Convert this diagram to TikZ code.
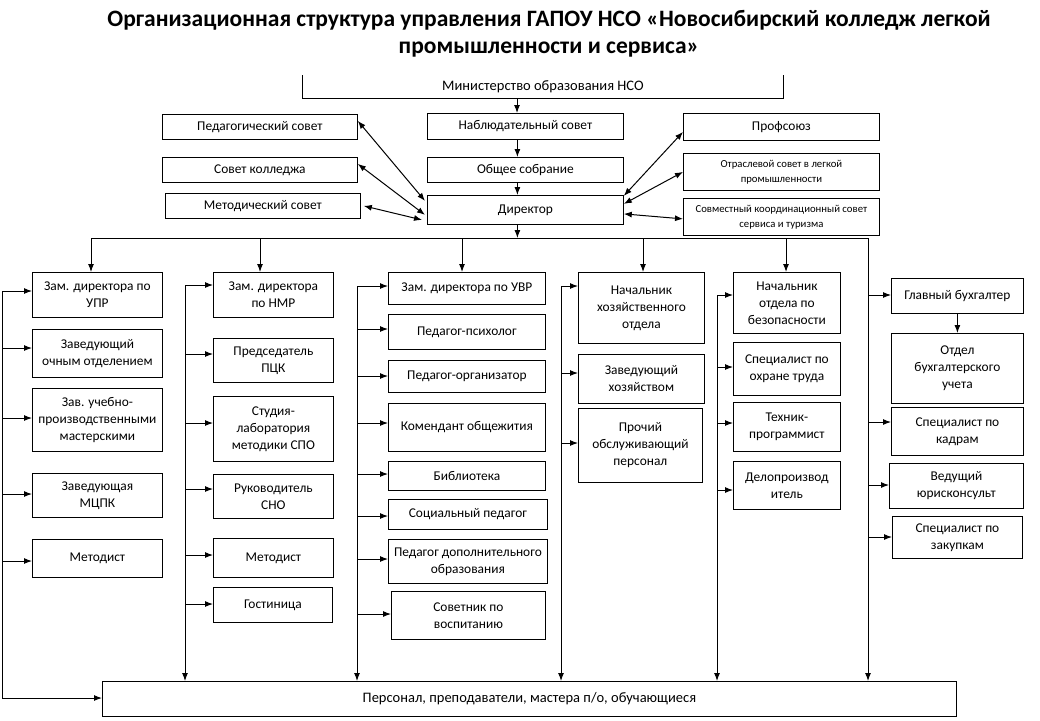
\documentclass[tikz,border=0pt]{standalone}
\usepackage{fontspec}
\setmainfont{Carlito}
\usetikzlibrary{arrows.meta}
\tikzset{
  box/.style={draw=black, line width=0.8pt, fill=white, inner sep=1pt, align=center, font=\fontsize{13.4}{17}\selectfont},
  smallbox/.style={box, font=\fontsize{10.7}{15}\selectfont},
  bigbox/.style={box, font=\fontsize{14.5}{17}\selectfont},
  arr/.style={line width=1pt, -{Latex[length=8pt,width=6pt]}},
  darr/.style={line width=1pt, {Latex[length=8pt,width=6pt]}-{Latex[length=8pt,width=6pt]}},
  line/.style={line width=1pt},
  titlestyle/.style={align=center, font=\fontsize{23.5}{27}\selectfont\bfseries},
}
\newcommand\mkbox[7][box]{\node[#1, anchor=north west, minimum width={(#5-#3)*1pt}, minimum height={(#6-#4)*1pt}] (#2) at (#3,#4) {#7};}
\begin{document}
\begin{tikzpicture}[x=1pt,y=-1pt]
\useasboundingbox (0,0) rectangle (1040,720);
\fill[white] (0,0) rectangle (1040,720);
\node[titlestyle] (title) at (549,34) {Организационная структура управления ГАПОУ НСО «Новосибирский колледж легкой\\промышленности и сервиса»};

% ministry (open box)
\node[font=\fontsize{14.5}{17}\selectfont] (min) at (543,87) {Министерство образования НСО};
\draw[line width=0.8pt] (302,75) -- (302,98) -- (783,98) -- (783,75);
\coordinate (minb) at (517,98);

% top boxes
\mkbox{ped}{162}{114}{357}{139}{Педагогический совет}
\mkbox{sk}{162}{157}{357}{182}{Совет колледжа}
\mkbox{ms}{165}{193}{360}{218}{Методический совет}
\mkbox{nab}{427}{113}{623}{139}{Наблюдательный совет}
\mkbox{obs}{427}{157}{623}{182}{Общее собрание}
\mkbox{dir}{427}{195}{623}{224}{Директор}
\mkbox{prof}{683}{113}{879}{140}{Профсоюз}
\mkbox[smallbox]{otr}{683}{153}{879}{190}{Отраслевой совет в легкой\\промышленности}
\mkbox[smallbox]{sovm}{683}{198}{879}{235}{Совместный координационный совет\\сервиса и туризма}

\draw[arr] (minb) -- (minb |- nab.north);
\coordinate (nabb) at ([xshift=-8pt]nab.south);
\coordinate (obsb) at ([xshift=-8pt]obs.south);
\coordinate (dirb) at ([xshift=-8pt]dir.south);
\draw[arr] (nabb) -- (nabb |- obs.north);
\draw[arr] (obsb) -- (obsb |- dir.north);

\draw[darr] ([yshift=6pt]ped.east) -- ([yshift=9pt,xshift=-2pt]dir.west);
\draw[darr] ([yshift=6pt]sk.east) -- ([yshift=-5pt,xshift=-2pt]dir.west);
\draw[darr] ([xshift=3pt]ms.east) -- ([yshift=-10pt,xshift=-5pt]dir.west);
\draw[darr] ([yshift=-5pt]prof.west) -- ([yshift=14pt]dir.east);
\draw[darr] (otr.west) -- ([yshift=6pt]dir.east);
\draw[darr] ([yshift=-2pt]sovm.west) -- ([yshift=-4pt]dir.east);

% bus
\coordinate (b1) at (91,238);
\coordinate (b2) at (260,238);
\coordinate (b3) at (462,238);
\coordinate (b4) at (643,238);
\coordinate (b5) at (786,238);
\coordinate (b6) at (868,238);
\draw[arr] (dirb) -- (dirb |- b1);
\draw[line] (b1) -- (b6);

% bottom box
\mkbox[bigbox]{pers}{102}{681}{956}{716}{Персонал, преподаватели, мастера п/о, обучающиеся}

% column 1
\mkbox{upr}{32}{272}{162}{317}{Зам. директора по\\УПР}
\mkbox{och}{32}{329}{162}{377}{Заведующий\\очным отделением}
\mkbox{zum}{32}{388}{162}{451}{Зав. учебно-\\производственными\\мастерскими}
\mkbox{mcpk}{32}{473}{162}{517}{Заведующая\\МЦПК}
\mkbox{met1}{32}{539}{162}{577}{Методист}
\draw[arr] (b1) -- (b1 |- upr.north);
\coordinate (r1a) at (2,291);
\coordinate (r1b) at (2,348);
\coordinate (r1c) at (2,418);
\coordinate (r1d) at (2,494);
\coordinate (r1e) at (2,561);
\coordinate (r1z) at (2,698);
\draw[line] (r1a) -- (r1z);
\draw[arr] (r1a) -- (r1a -| upr.west);
\draw[arr] (r1b) -- (r1b -| och.west);
\draw[arr] (r1c) -- (r1c -| zum.west);
\draw[arr] (r1d) -- (r1d -| mcpk.west);
\draw[arr] (r1e) -- (r1e -| met1.west);
\draw[arr] (r1z) -- (r1z -| pers.west);

% column 2
\mkbox{nmr}{213}{272}{333}{317}{Зам. директора\\по НМР}
\mkbox{pck}{213}{338}{333}{382}{Председатель\\ПЦК}
\mkbox{stu}{213}{396}{333}{461}{Студия-\\лаборатория\\методики СПО}
\mkbox{sno}{213}{474}{333}{518}{Руководитель\\СНО}
\mkbox{met2}{213}{538}{333}{577}{Методист}
\mkbox{gos}{213}{587}{332}{622}{Гостиница}
\draw[arr] (b2) -- (b2 |- nmr.north);
\coordinate (r2a) at (185,285);
\coordinate (r2b) at (185,354);
\coordinate (r2c) at (185,423);
\coordinate (r2d) at (185,489);
\coordinate (r2e) at (185,555);
\coordinate (r2f) at (185,604);
\draw[arr] (r2a) -- (r2a |- pers.north);
\draw[arr] (r2a) -- (r2a -| nmr.west);
\draw[arr] (r2b) -- (r2b -| pck.west);
\draw[arr] (r2c) -- (r2c -| stu.west);
\draw[arr] (r2d) -- (r2d -| sno.west);
\draw[arr] (r2e) -- (r2e -| met2.west);
\draw[arr] (r2f) -- (r2f -| gos.west);

% column 3
\mkbox{uvr}{388}{272}{545}{304}{Зам. директора по УВР}
\mkbox{psy}{388}{314}{545}{349}{Педагог-психолог}
\mkbox{org}{388}{360}{545}{392}{Педагог-организатор}
\mkbox{kom}{388}{403}{545}{451}{Комендант общежития}
\mkbox{bib}{388}{461}{545}{490}{Библиотека}
\mkbox{soc}{388}{499}{547}{529}{Социальный педагог}
\mkbox{dop}{388}{539}{547}{583}{Педагог дополнительного\\образования}
\mkbox{sov}{391}{591}{545}{639}{Советник по\\воспитанию}
\draw[arr] (b3) -- (b3 |- uvr.north);
\coordinate (r3a) at (357,286);
\coordinate (r3b) at (357,329);
\coordinate (r3c) at (357,376);
\coordinate (r3d) at (357,423);
\coordinate (r3e) at (357,474);
\coordinate (r3f) at (357,516);
\coordinate (r3g) at (357,559);
\coordinate (r3h) at (357,614);
\draw[arr] (r3a) -- (r3a |- pers.north);
\draw[arr] (r3a) -- (r3a -| uvr.west);
\draw[arr] (r3b) -- (r3b -| psy.west);
\draw[arr] (r3c) -- (r3c -| org.west);
\draw[arr] (r3d) -- (r3d -| kom.west);
\draw[arr] (r3e) -- (r3e -| bib.west);
\draw[arr] (r3f) -- (r3f -| soc.west);
\draw[arr] (r3g) -- (r3g -| dop.west);
\draw[arr] (r3h) -- (r3h -| sov.west);

% column 4
\mkbox{hoz}{578}{272}{704}{343}{Начальник\\хозяйственного\\отдела}
\mkbox{zh}{578}{354}{704}{403}{Заведующий\\хозяйством}
\mkbox{pro}{578}{408}{702}{482}{Прочий\\обслуживающий\\персонал}
\draw[arr] (b4) -- (b4 |- hoz.north);
\coordinate (r4a) at (561,286);
\coordinate (r4b) at (561,373);
\coordinate (r4c) at (561,443);
\draw[arr] (r4a) -- (r4a |- pers.north);
\draw[arr] (r4a) -- (r4a -| hoz.west);
\draw[arr] (r4b) -- (r4b -| zh.west);
\draw[arr] (r4c) -- (r4c -| pro.west);

% column 5
\mkbox{bez}{733}{272}{840}{333}{Начальник\\отдела по\\безопасности}
\mkbox{ohr}{733}{342}{840}{395}{Специалист по\\охране труда}
\mkbox{teh}{733}{402}{840}{451}{Техник-\\программист}
\mkbox{del}{733}{461}{840}{509}{Делопроизвод\\итель}
\draw[arr] (b5) -- (b5 |- bez.north);
\coordinate (r5a) at (717,295);
\coordinate (r5b) at (717,367);
\coordinate (r5c) at (717,423);
\coordinate (r5d) at (717,490);
\draw[arr] (r5a) -- (r5a |- pers.north);
\draw[arr] (r5a) -- (r5a -| bez.west);
\draw[arr] (r5b) -- (r5b -| ohr.west);
\draw[arr] (r5c) -- (r5c -| teh.west);
\draw[arr] (r5d) -- (r5d -| del.west);

% column 6
\mkbox{glb}{891}{278}{1023}{313}{Главный бухгалтер}
\mkbox{obu}{891}{333}{1023}{403}{Отдел\\бухгалтерского\\учета}
\mkbox{kad}{891}{407}{1023}{455}{Специалист по\\кадрам}
\mkbox{jur}{889}{463}{1023}{508}{Ведущий\\юрисконсульт}
\mkbox{zak}{892}{516}{1022}{558}{Специалист по\\закупкам}
\draw[arr] (glb) -- (obu);
\coordinate (r6a) at (868,295);
\coordinate (r6b) at (868,422);
\coordinate (r6c) at (868,485);
\coordinate (r6d) at (868,537);
\draw[arr] (b6) -- (b6 |- pers.north);
\draw[arr] (r6a) -- (r6a -| glb.west);
\draw[arr] (r6b) -- (r6b -| kad.west);
\draw[arr] (r6c) -- (r6c -| jur.west);
\draw[arr] (r6d) -- (r6d -| zak.west);
\end{tikzpicture}
\end{document}
